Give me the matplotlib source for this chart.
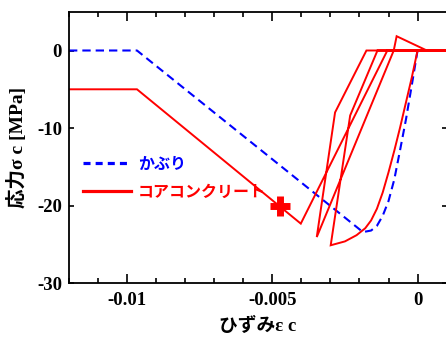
import numpy as np
import matplotlib
matplotlib.use("Agg")
import matplotlib.pyplot as plt
from matplotlib.lines import Line2D
from matplotlib.ticker import MultipleLocator

plt.rcParams['axes.unicode_minus'] = False

# cover concrete (かぶり): strain, stress [MPa]
cover_strain = [-0.012, -0.00966, -0.00188, -0.0016, -0.0014, -0.0012, -0.0010,
                -0.0008, -0.0006, -0.0004, -0.0002, 0.0]
cover_stress = [0.0, 0.0, -23.4, -23.2, -22.6, -21.3, -19.4,
                -16.6, -12.8, -8.9, -4.5, 0.0]

# core concrete (コアコンクリート): loading path with unload/reload cycles
core_strain = [0.0, -0.0002, -0.0004, -0.0006, -0.0008, -0.0010, -0.0012, -0.0014,
               -0.0016, -0.0018, -0.0021, -0.0025, -0.00299,
               -0.00232, -0.00138, -0.00082, -0.00072, 0.00032, 0.0012,
               -0.00082, -0.00347, -0.00284, -0.00176, 0.0012,
               -0.00104, -0.00402, -0.00966, -0.012]
core_stress = [0.0, -3.5, -6.7, -9.9, -12.9, -15.7, -18.3, -20.4,
               -21.9, -22.9, -23.8, -24.6, -25.1,
               -8.37, 0.0, 0.0, 1.84, 0.0, 0.0,
               0.0, -24.04, -7.98, 0.0, 0.0,
               0.0, -22.31, -5.0, -5.0]

# marked point
mark_strain = [-0.00473]
mark_stress = [-20.1]

xticks = [-0.01, -0.005, 0]
xticklabels = ['-0.01', '-0.005', '0']
yticks = [0, -10, -20, -30]
yticklabels = ['0', '-10', '-20', '-30']

serif_jp = ['Liberation Serif', 'Noto Sans CJK JP']

fig = plt.figure(figsize=(4.46, 3.38), dpi=100)
ax = fig.add_axes([69 / 446, 1 - 283.3 / 338, 377.6 / 446, 271.6 / 338])

ax.plot(cover_strain, cover_stress, color='#0000ff', lw=1.5, dashes=(4, 2.4))
ax.plot(core_strain, core_stress, color='#ff0000', lw=1.4, solid_joinstyle='miter')
ax.plot(mark_strain, mark_stress, marker='+', color='#ff0000', ms=14, mew=5,
        linestyle='none')

ax.set_xlim(-0.012, 0.001)
ax.set_ylim(-30, 5)
ax.set_xticks(xticks)
ax.set_xticklabels(xticklabels)
ax.set_yticks(yticks)
ax.set_yticklabels(yticklabels)
ax.xaxis.set_minor_locator(MultipleLocator(0.001))

ax.tick_params(axis='both', which='both', direction='in', top=True, right=True,
               width=1.2, colors='black')
ax.tick_params(axis='x', which='major', length=6.5, pad=6)
ax.tick_params(axis='x', which='minor', length=3.5)
ax.tick_params(axis='y', which='major', length=3.6, pad=5)
for lab in ax.get_xticklabels() + ax.get_yticklabels():
    lab.set_fontfamily('Liberation Serif')
    lab.set_fontweight('bold')
    lab.set_fontsize(13.5)
for sp in ax.spines.values():
    sp.set_linewidth(1.3)

ax.set_xlabel('ひずみε c', family=serif_jp, fontweight='bold', fontsize=13.5)
ax.set_ylabel('応力σ c [MPa]', family=serif_jp, fontweight='bold', fontsize=14)
ax.xaxis.set_label_coords(0.5, -0.125)
ax.yaxis.set_label_coords(-0.112, 0.5)

handles = [Line2D([], [], color='#0000ff', lw=2.3, dashes=(2.2, 1.6)),
           Line2D([], [], color='#ff0000', lw=2.3)]
leg = ax.legend(handles, ['かぶり', 'コアコンクリート'], loc='upper left',
                bbox_to_anchor=(0.0, 0.523), frameon=False, handlelength=3.0,
                handletextpad=0.4, labelspacing=0.75,
                prop={'family': ['Noto Sans CJK JP'], 'weight': 'bold', 'size': 11.5})
for txt, col in zip(leg.get_texts(), ['#0000ff', '#ff0000']):
    txt.set_color(col)

fig.savefig('out.png', dpi=100)
